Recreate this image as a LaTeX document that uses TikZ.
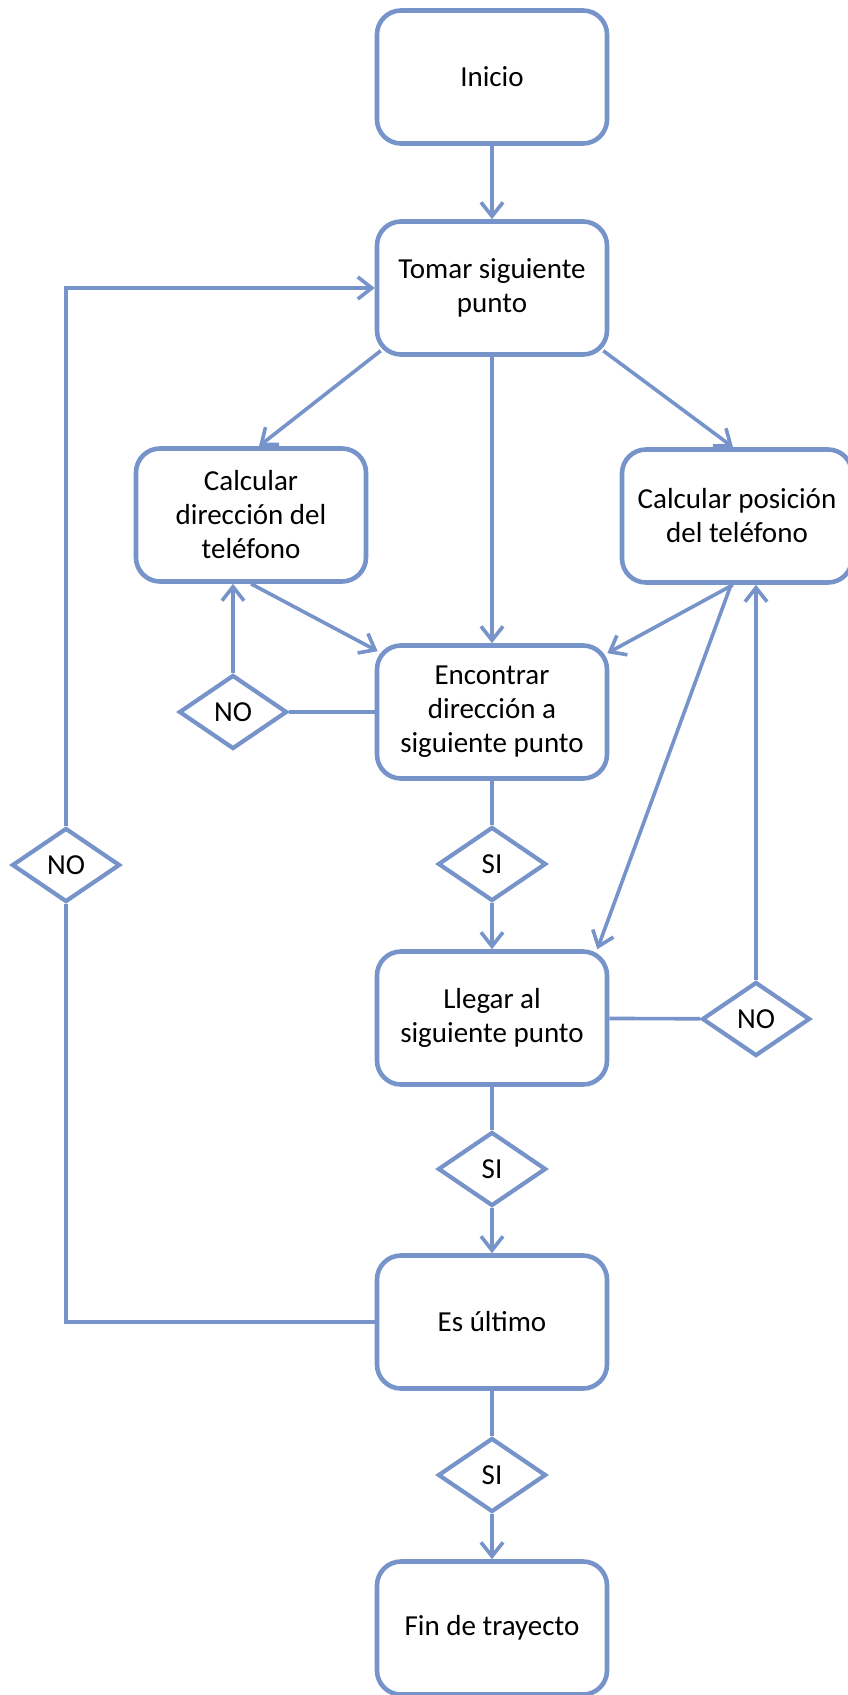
\documentclass[tikz,border=0pt]{standalone}
\usepackage{fontspec}
\setmainfont{Carlito}
\usepackage{tikz}
\usetikzlibrary{arrows.meta,shapes.geometric,calc}
\definecolor{flujo}{RGB}{118,148,201}

\begin{document}
\begin{tikzpicture}[
  x=0.5pt, y=-0.5pt,
  every node/.style={font=\fontsize{14.5}{17}\selectfont, align=center},
  box/.style={draw=flujo, line width=2.3pt, rounded corners=12pt, minimum width=115pt, minimum height=66.5pt, inner sep=2pt},
  decision/.style={draw=flujo, line width=2.1pt, diamond, minimum width=54pt, minimum height=37pt, inner sep=0pt},
  conn/.style={draw=flujo, line width=1.8pt},
  >={Straight Barb[length=7pt,width=11pt]}
]
\useasboundingbox (0,0) rectangle (847,1695);
\node[box] (inicio) at (492,77) {Inicio};
\node[box] (tomar) at (492,288) {Tomar siguiente\\punto};
\node[box] (caldir) at (251,515) {Calcular\\dirección del\\teléfono};
\node[box] (calpos) at (737,516) {Calcular posición\\del teléfono};
\node[box] (encontrar) at (492,712) {Encontrar\\dirección a\\siguiente punto};
\node[decision] (nom) at (233,712) {NO};
\node[decision] (si1) at (492,864) {SI};
\node[box] (llegar) at (492,1018) {Llegar al\\siguiente punto};
\node[decision] (nor) at (756,1019) {NO};
\node[decision] (si2) at (492,1169) {SI};
\node[box] (ultimo) at (492,1322) {Es último};
\node[decision] (nol) at (66,865) {NO};
\node[decision] (si3) at (492,1475) {SI};
\node[box] (fin) at (492,1628) {Fin de trayecto};
% columna central
\draw[conn,->] (inicio) -- (tomar);
\draw[conn,->] (tomar) -- (encontrar);
\draw[conn] (encontrar) -- (si1);
\draw[conn,->] (si1) -- (llegar);
\draw[conn] (llegar) -- (si2);
\draw[conn,->] (si2) -- (ultimo);
\draw[conn] (ultimo) -- (si3);
\draw[conn,->] (si3) -- (fin);
% ramas de calculo
\draw[conn,->] ([xshift=3pt,yshift=3pt]tomar.south west) -- ([xshift=4pt]caldir.north);
\draw[conn,->] ([xshift=-3pt,yshift=3pt]tomar.south east) -- ([xshift=-2pt]calpos.north);
\draw[conn,->] (caldir.south) -- ([xshift=1.5pt,yshift=-4pt]encontrar.north west);
\draw[conn,->] ([xshift=-2pt]calpos.south) -- ([xshift=-1pt,yshift=-5pt]encontrar.north east);
\draw[conn,->] ([xshift=-3pt]calpos.south) -- ([xshift=-6pt]llegar.north east);
% bucles NO
\draw[conn] (encontrar) -- (nom);
\draw[conn,->] (nom) -- (nom.north |- caldir.south);
\draw[conn] (llegar) -- (nor);
\draw[conn,->] (nor) -- (nor.north |- calpos.south);
\draw[conn] (ultimo.west) -| (nol.south);
\draw[conn,->] (nol.north) |- (tomar.west);
\end{tikzpicture}
\end{document}
